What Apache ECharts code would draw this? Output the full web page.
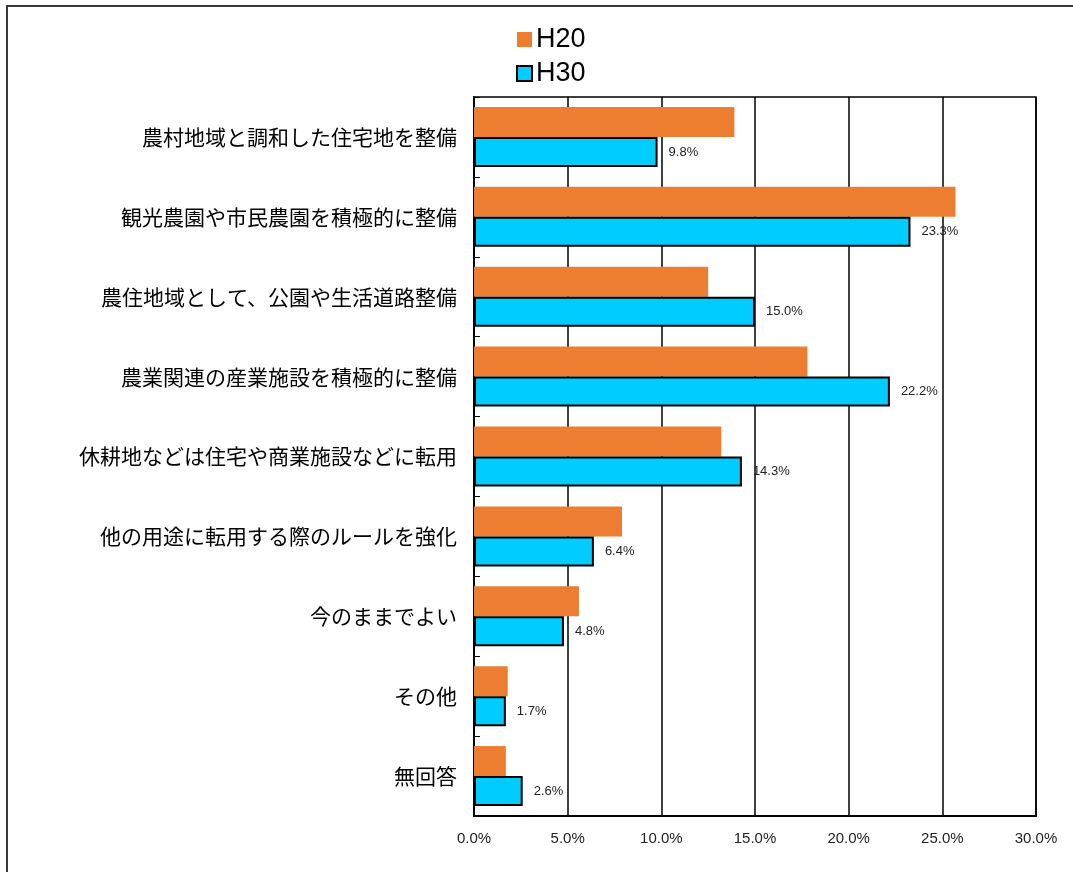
<!DOCTYPE html>
<html>
<head>
<meta charset="utf-8">
<script src="https://cdn.jsdelivr.net/npm/echarts@6/dist/echarts.min.js"></script>
<style>
  html, body { margin: 0; padding: 0; background: #fff; }
  #chart { width: 1073px; height: 872px; }
</style>
</head>
<body>
<div id="chart"></div>
<script>
// Survey items (top to bottom)
const categories = [
  '農村地域と調和した住宅地を整備',
  '観光農園や市民農園を積極的に整備',
  '農住地域として、公園や生活道路整備',
  '農業関連の産業施設を積極的に整備',
  '休耕地などは住宅や商業施設などに転用',
  '他の用途に転用する際のルールを強化',
  '今のままでよい',
  'その他',
  '無回答'
];
// Share of responses (%)
const h20 = [13.9, 25.7, 12.5, 17.8, 13.2, 7.9, 5.6, 1.8, 1.7];
const h30 = [9.8, 23.3, 15.0, 22.2, 14.3, 6.4, 4.8, 1.7, 2.6];
const seriesNames = ['H20', 'H30'];

const jpFont = '"Noto Sans CJK JP", "Noto Sans", sans-serif';
const narrowFont = '"Liberation Sans Narrow", "Liberation Sans", Arial, sans-serif';

const chart = echarts.init(document.getElementById('chart'));
chart.setOption({
  animation: false,
  backgroundColor: '#ffffff',
  graphic: [{
    type: 'rect',
    shape: { x: 7, y: 6, width: 1200, height: 1000 },
    style: { fill: 'none', stroke: '#3a3a3a', lineWidth: 2 },
    silent: true
  }],
  legend: {
    orient: 'vertical',
    left: 511,
    top: 21,
    itemWidth: 15,
    itemHeight: 15,
    itemGap: 7,
    icon: 'rect',
    data: seriesNames,
    textStyle: { fontSize: 27, color: '#000', fontFamily: 'Arial, "Liberation Sans", sans-serif', padding: [0, 0, 0, -1] }
  },
  grid: {
    left: 474,
    right: 37,
    top: 97,
    bottom: 56,
    show: true,
    borderColor: '#000',
    borderWidth: 1.5
  },
  xAxis: {
    type: 'value',
    min: 0,
    max: 30,
    interval: 5,
    axisLine: { show: true, lineStyle: { color: '#000', width: 2 } },
    axisTick: { show: false },
    splitLine: { show: true, lineStyle: { color: '#000', width: 1.5 } },
    axisLabel: {
      margin: 15,
      fontSize: 15,
      color: '#222',
      fontFamily: narrowFont,
      formatter: v => v.toFixed(1) + '%'
    }
  },
  yAxis: {
    type: 'category',
    inverse: true,
    data: categories,
    axisLine: { show: true, lineStyle: { color: '#000', width: 2 } },
    axisTick: { show: true, inside: true, length: 6, lineStyle: { color: '#000', width: 1 } },
    axisLabel: {
      margin: 17,
      fontSize: 21,
      color: '#000',
      fontFamily: jpFont
    }
  },
  series: [
    {
      name: seriesNames[0],
      type: 'bar',
      data: h20,
      barWidth: 30,
      barGap: '0%',
      itemStyle: { color: '#ED7D31' }
    },
    {
      name: seriesNames[1],
      type: 'bar',
      data: h30,
      barWidth: 30,
      itemStyle: { color: '#00CCFF', borderColor: '#000', borderWidth: 2 },
      label: {
        show: true,
        position: 'right',
        distance: 11,
        fontSize: 13,
        color: '#222',
        fontFamily: narrowFont,
        formatter: p => p.value.toFixed(1) + '%'
      }
    }
  ]
});
</script>
</body>
</html>
